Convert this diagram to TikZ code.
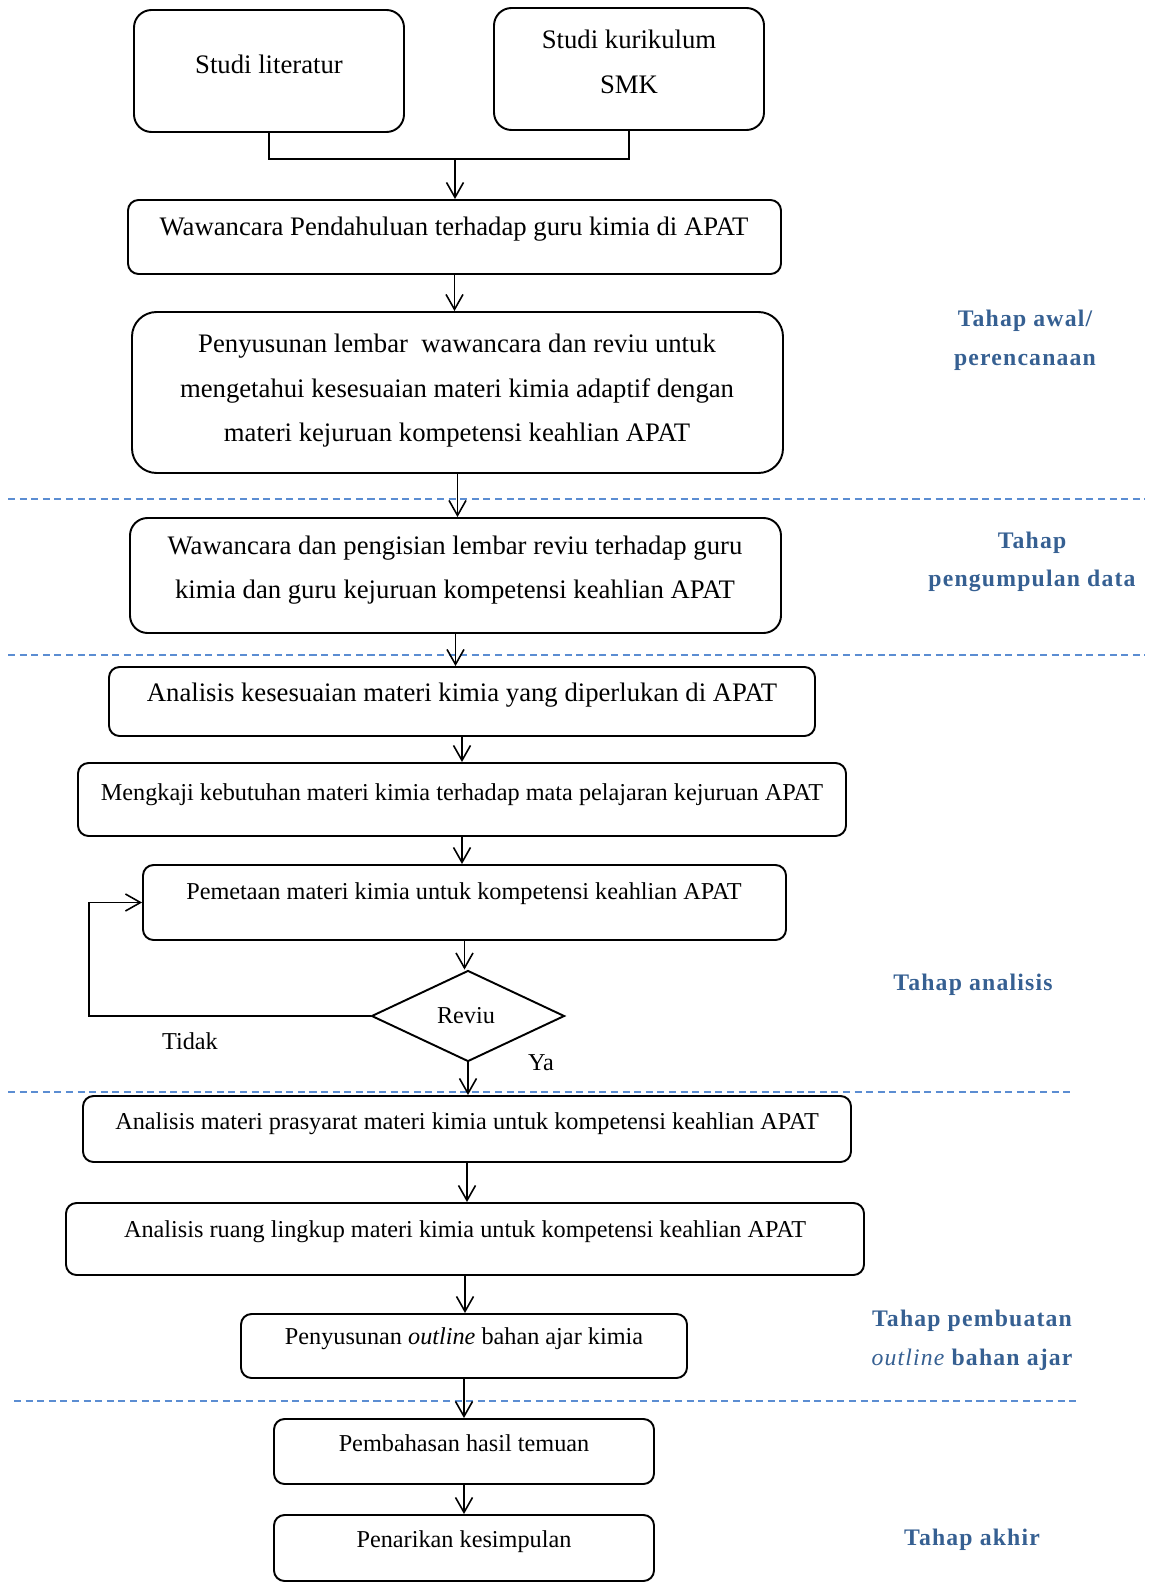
\documentclass[tikz,border=0pt]{standalone}
\usepackage{fontspec}
\setmainfont{Liberation Serif}
\newfontfamily\stagefont[LetterSpace=5]{Liberation Serif}
\usetikzlibrary{arrows.meta,fit,shapes.geometric}
\definecolor{stagecol}{RGB}{54,96,146}
\definecolor{dashcol}{RGB}{91,141,210}

\begin{document}
\begin{tikzpicture}[
    x=0.02cm, y=-0.02cm,            % one unit = one pixel of the sketch
    box/.style={draw, line width=1.1pt, inner sep=0pt},
    txt/.style={align=center, font=\fontsize{15.2}{25.3}\selectfont},
    txts/.style={align=center, font=\fontsize{13.8}{25.3}\selectfont},
    stage/.style={align=center, text=stagecol,
                  font=\stagefont\fontsize{13.5}{22}\selectfont\bfseries},
    arr/.style={-{Straight Barb[length=0.3cm,width=0.34cm]}, line width=0.9pt},
    sep/.style={dashcol, line width=0.9pt, dash pattern=on 4pt off 2.6pt},
 ]
    \useasboundingbox (0,0) rectangle (1149,1591);
    % ~~~ boxes of the flow ~~~~~~~~~~~~~~~~~~~~~~~~~~~~~~~~
    \foreach \n/\xa/\ya/\xb/\yb/\r in {A/134/10/404/132/10pt,
                                        B/494/8/764/130/10pt,
                                        C/128/200/781/274/6pt,
                                        D/132/312/783/473/14pt,
                                        E/130/518/781/633/10pt,
                                        F/109/667/815/736/6pt,
                                        G/78/763/846/836/6pt,
                                        H/143/865/786/940/6pt,
                                        I/83/1096/851/1162/6pt,
                                        J/66/1203/864/1275/6pt,
                                        K/241/1314/687/1378/6pt,
                                        L/274/1419/654/1484/6pt,
                                        M/274/1515/654/1581/6pt}
        \node[box, rounded corners=\r, fit={(\xa,\ya) (\xb,\yb)}] (\n) {};
    \node[box, diamond, aspect=2.12, minimum width=3.86cm,
          minimum height=1.82cm] (R) at (468,1016) {};
    % ~~~ texts in the boxes ~~~~~~~~~~~~~~~~~~~~~~~~~~~~~~~
    \node[txt]  (At) at (269,64)  {Studi literatur};
    \node[txt]  (Bt) at (629,62)  {Studi kurikulum\\SMK};
    \node[txt]  (Ct) at (454,229) {Wawancara Pendahuluan terhadap guru kimia di APAT};
    \node[txt]  (Dt) at (457,391) {Penyusunan lembar\ \ wawancara dan reviu untuk\\
                                   mengetahui kesesuaian materi kimia adaptif dengan\\
                                   materi kejuruan kompetensi keahlian APAT};
    \node[txt]  (Et) at (455,570) {Wawancara dan pengisian lembar reviu terhadap guru\\
                                   kimia dan guru kejuruan kompetensi keahlian APAT};
    \node[txt]  (Ft) at (462,695) {Analisis kesesuaian materi kimia yang diperlukan di APAT};
    \node[txts] (Gt) at (462,795) {Mengkaji kebutuhan materi kimia terhadap mata pelajaran kejuruan APAT};
    \node[txts] (Ht) at (464,894) {Pemetaan materi kimia untuk kompetensi keahlian APAT};
    \node[txts] (Rt) at (466,1016) {Reviu};
    \node[txts] (It) at (467,1124) {Analisis materi prasyarat materi kimia untuk kompetensi keahlian APAT};
    \node[txts] (Jt) at (465,1232) {Analisis ruang lingkup materi kimia untuk kompetensi keahlian APAT};
    \node[txts] (Kt) at (464,1339) {Penyusunan \textit{outline} bahan ajar kimia};
    \node[txts] (Lt) at (464,1443) {Pembahasan hasil temuan};
    \node[txts] (Mt) at (464,1542) {Penarikan kesimpulan};
    \node[txts] (no)  at (190,1041) {Tidak};
    \node[txts] (yes) at (541,1063) {Ya};
    % ~~~ stages on the right ~~~~~~~~~~~~~~~~~~~~~~~~~~~~~~
    \node[stage] (s1) at (1025,340)  {Tahap awal/\\perencanaan};
    \node[stage] (s2) at (1032,562)  {Tahap\\pengumpulan data};
    \node[stage] (s3) at (973,985)   {Tahap analisis};
    \node[stage] (s4) at (972,1340)  {Tahap pembuatan\\{\mdseries\itshape outline} bahan ajar};
    \node[stage] (s5) at (972,1540)  {Tahap akhir};
    % ~~~ dashed borders between the stages ~~~~~~~~~~~~~~~~
    \foreach \y/\xa/\xb in {499/8/1145, 655/8/1145, 1092/8/1074, 1401/14/1079}
        \draw[sep] (\xa,\y) -- (\xb,\y);
    % ~~~ connectors ~~~~~~~~~~~~~~~~~~~~~~~~~~~~~~~~~~~~~~~
    \coordinate (j) at (455,159);
    \draw[line width=0.9pt] (A.south) |- (j) -| (B.south);
    \draw[arr] (j) -- (j |- C.north);
    \foreach \s/\t in {C/D, D/E, E/F, F/G, G/H, H/R, R/I, I/J, J/K, K/L, L/M}
        \draw[arr] (\s.south) -- (\s.south |- \t.north);
    \coordinate (loop) at (89,1016);
    \draw[arr] (R.west) -- (loop) |- (H.west);
\end{tikzpicture}
\end{document}
